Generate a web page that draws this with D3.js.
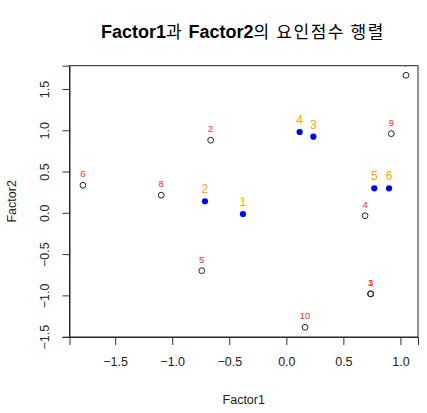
<!DOCTYPE html>
<html>
<head>
<meta charset="utf-8">
<script src="https://cdn.jsdelivr.net/npm/d3@7"></script>
<style>
  body { margin: 0; background: #fff; }
  text { font-family: "Liberation Sans", Arial, "Noto Sans CJK KR", sans-serif; }
</style>
</head>
<body>
<div class="chart"></div>
<script>
// Variables (blue points, orange labels)
var varLabels = ["1", "2", "3", "4", "5", "6"];
var varF1 = [-0.380, -0.713, 0.237, 0.117, 0.771, 0.900];
var varF2 = [-0.014, 0.140, 0.922, 0.979, 0.297, 0.297];

// Observations (open circles, red labels)
var obsLabels = ["1", "2", "3", "4", "5", "6", "7", "8", "9", "10"];
var obsF1 = [0.738, -0.663, 0.740, 0.690, -0.741, -1.782, 1.049, -1.096, 0.920, 0.164];
var obsF2 = [-0.980, 0.879, -0.983, -0.035, -0.701, 0.334, 1.666, 0.213, 0.959, -1.386];

var xTicks = [-1.5, -1.0, -0.5, 0.0, 0.5, 1.0];
var yTicks = [-1.5, -1.0, -0.5, 0.0, 0.5, 1.0, 1.5];

var svgWidth = 427;
var svgHeight = 413;

var plot = { left: 69.5, right: 418, top: 65.7, bottom: 337 };

var svg = d3.select(".chart")
  .append("svg")
  .attr("width", svgWidth)
  .attr("height", svgHeight);

var x = d3.scaleLinear()
  .domain([-1.900, 1.154])
  .range([plot.left, plot.right]);

var y = d3.scaleLinear()
  .domain([-1.504, 1.782])
  .range([plot.bottom, plot.top]);

// Title: latin part bold, korean part regular
var title = svg.append("text")
  .attr("x", 243)
  .attr("y", 38)
  .attr("text-anchor", "middle")
  .style("font-size", "18px")
  .attr("fill", "#000");
title.append("tspan").attr("font-weight", "bold").text("Factor1");
title.append("tspan").style("font-family", "'Noto Sans CJK KR'").style("font-size", "17px")
  .style("letter-spacing", "1.5px").text("과 ");
title.append("tspan").attr("font-weight", "bold").text("Factor2");
title.append("tspan").style("font-family", "'Noto Sans CJK KR'").style("font-size", "17px")
  .style("letter-spacing", "1.6px").text("의 요인점수 행렬");

// Axes
var fmt = d3.format(".1f");

var xAxis = svg.append("g")
  .attr("transform", `translate(0, ${plot.bottom})`)
  .call(d3.axisBottom(x).tickValues(xTicks).tickFormat(fmt).tickSize(8).tickPadding(12));

var yAxis = svg.append("g")
  .attr("transform", `translate(${plot.left}, 0)`)
  .call(d3.axisLeft(y).tickValues(yTicks).tickFormat(fmt).tickSize(7).tickPadding(6));

[xAxis, yAxis].forEach(function(a) {
  a.select(".domain").attr("stroke", "#333");
  a.selectAll(".tick line").attr("stroke", "#333");
  a.selectAll(".tick text")
    .attr("fill", "#222")
    .style("font-size", "12.5px")
    .style("font-family", "'Liberation Sans', Arial, sans-serif");
});

// rotate y tick labels like R's las=0
yAxis.selectAll(".tick text")
  .attr("transform", "rotate(-90)")
  .attr("x", 0)
  .attr("y", -25)
  .attr("dy", "0.35em")
  .attr("text-anchor", "middle");

// axis titles
svg.append("text")
  .attr("x", (plot.left + plot.right) / 2)
  .attr("y", 404)
  .attr("text-anchor", "middle")
  .style("font-size", "12.5px")
  .attr("fill", "#222")
  .text("Factor1");

svg.append("text")
  .attr("transform", `translate(16, ${(plot.top + plot.bottom) / 2}) rotate(-90)`)
  .attr("text-anchor", "middle")
  .style("font-size", "12.5px")
  .attr("fill", "#222")
  .text("Factor2");

// Clip to plot region
svg.append("clipPath")
  .attr("id", "plotClip")
  .append("rect")
  .attr("x", plot.left)
  .attr("y", plot.top)
  .attr("width", plot.right - plot.left)
  .attr("height", plot.bottom - plot.top);

var chartGroup = svg.append("g").attr("clip-path", "url(#plotClip)");

var obsData = obsLabels.map((d, i) => ({ label: d, f1: obsF1[i], f2: obsF2[i] }));
var varData = varLabels.map((d, i) => ({ label: d, f1: varF1[i], f2: varF2[i] }));

// observation circles
chartGroup.selectAll(".obs")
  .data(obsData)
  .enter()
  .append("circle")
  .attr("cx", d => x(d.f1))
  .attr("cy", d => y(d.f2))
  .attr("r", 2.9)
  .attr("fill", "none")
  .attr("stroke", "#222")
  .attr("stroke-width", 1);

chartGroup.selectAll(".obsText")
  .data(obsData)
  .enter()
  .append("text")
  .attr("x", d => x(d.f1))
  .attr("y", d => y(d.f2) - 8)
  .attr("text-anchor", "middle")
  .style("font-size", "9.5px")
  .attr("fill", "#ff2a2a")
  .text(d => d.label);

// variable points
chartGroup.selectAll(".var")
  .data(varData)
  .enter()
  .append("circle")
  .attr("cx", d => x(d.f1))
  .attr("cy", d => y(d.f2))
  .attr("r", 3.1)
  .attr("fill", "#0000ff");

chartGroup.selectAll(".varText")
  .data(varData)
  .enter()
  .append("text")
  .attr("x", d => x(d.f1))
  .attr("y", d => y(d.f2) - 8)
  .attr("text-anchor", "middle")
  .style("font-size", "12px")
  .attr("fill", "#ffa500")
  .text(d => d.label);

// plot box
svg.append("rect")
  .attr("x", plot.left)
  .attr("y", plot.top)
  .attr("width", plot.right - plot.left)
  .attr("height", plot.bottom - plot.top)
  .attr("fill", "none")
  .attr("stroke", "#222")
  .attr("stroke-width", 1);
</script>
</body>
</html>
